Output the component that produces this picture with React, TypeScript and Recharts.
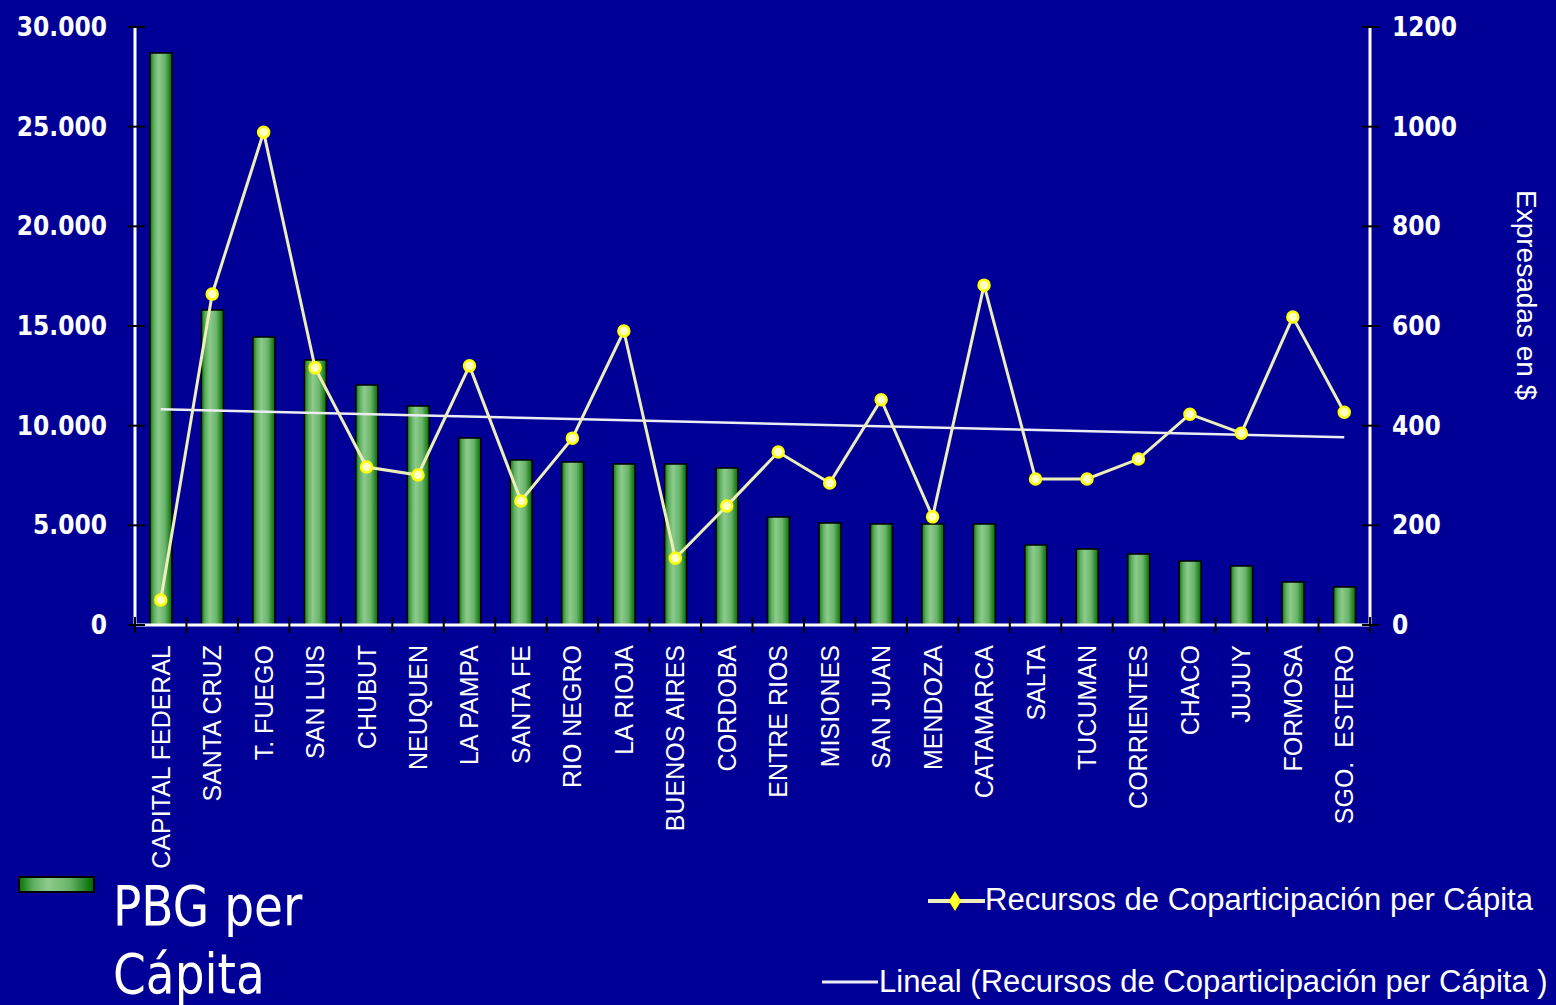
import React from "react";
import { Bar, ComposedChart, Line, ReferenceLine, XAxis, YAxis } from "recharts";

const categories = [
  "CAPITAL FEDERAL", "SANTA CRUZ", "T. FUEGO", "SAN LUIS", "CHUBUT", "NEUQUEN",
  "LA PAMPA", "SANTA FE", "RIO NEGRO", "LA RIOJA", "BUENOS AIRES", "CORDOBA",
  "ENTRE RIOS", "MISIONES", "SAN JUAN", "MENDOZA", "CATAMARCA", "SALTA",
  "TUCUMAN", "CORRIENTES", "CHACO", "JUJUY", "FORMOSA", "SGO.  ESTERO",
];
const pbgPerCapita = [
  28700, 15800, 14450, 13300, 12040, 10990, 9380, 8280, 8180, 8080, 8080, 7880,
  5420, 5120, 5070, 5070, 5070, 4010, 3810, 3560, 3210, 2960, 2160, 1910,
];
const recursosPerCapita = [
  50, 664, 989, 516, 317, 301, 520, 249, 375, 590, 134, 239,
  347, 285, 452, 217, 682, 293, 293, 333, 423, 385, 618, 427,
];
// Excel "Lineal" trendline, value at first and last category
const trendEnds = [433, 377];
const leftTicks = [0, 5000, 10000, 15000, 20000, 25000, 30000];
const rightTicks = [0, 200, 400, 600, 800, 1000, 1200];

const data = categories.map((name, i) => ({ name, pbg: pbgPerCapita[i], rec: recursosPerCapita[i] }));

const W = 1556;
const H = 1005;
const LEFT_W = 135;
const RIGHT_W = 186;
const X_H = 380;
const BAND = (W - LEFT_W - RIGHT_W) / categories.length;
const BG = "#000096";
const numFont = "'DejaVu Sans Condensed', 'DejaVu Sans', sans-serif";
const txtFont = "'Liberation Sans', Arial, sans-serif";

const fmtLeft = (v: number) => (v === 0 ? "0" : `${v / 1000}.000`);

function LeftTick({ x, y, payload }: any) {
  return <g>
    <line x1={x + 28 - 7} x2={x + 28 + 10} y1={y} y2={y} stroke="#000" strokeWidth={2} />
    <text x={x} y={y} dy={9} textAnchor="end" fill="#fff" fontFamily={numFont} fontStretch="condensed"
      fontWeight="bold" fontSize={26}>{fmtLeft(payload.value)}</text>
  </g>;
}

function RightTick({ x, y, payload }: any) {
  return <g>
    <line x1={x - 22 - 8} x2={x - 22 + 9} y1={y} y2={y} stroke="#000" strokeWidth={2} />
    <text x={x} y={y} dy={9} textAnchor="start" fill="#fff" fontFamily={numFont} fontStretch="condensed"
      fontWeight="bold" fontSize={26}>{payload.value}</text>
  </g>;
}

function BottomTick({ x, y, payload, index }: any) {
  const axisY = y - 20;
  return <g>
    <line x1={x - BAND / 2} x2={x - BAND / 2} y1={axisY - 8} y2={axisY + 8} stroke="#000" strokeWidth={2} />
    {index === categories.length - 1 &&
      <line x1={x + BAND / 2} x2={x + BAND / 2} y1={axisY - 8} y2={axisY + 8} stroke="#000" strokeWidth={2} />}
    <text transform={`translate(${x + 9},${y}) rotate(-90)`} textAnchor="end" fill="#fff"
      fontFamily={txtFont} fontSize={25} style={{ whiteSpace: "pre" }}>{payload.value}</text>
  </g>;
}

export default function App() {
  return <div style={{ position: "absolute", left: 0, top: 0, width: W, height: H, background: BG, overflow: "hidden" }}>
    <ComposedChart width={W} height={H} data={data} margin={{ top: 27, right: 0, bottom: 0, left: 0 }}>
      <defs>
        <linearGradient id="barFill" x1="0" y1="0" x2="1" y2="0">
          <stop offset="0%" stopColor="#0b780b" />
          <stop offset="18%" stopColor="#5fae5f" />
          <stop offset="38%" stopColor="#8ccb8c" />
          <stop offset="68%" stopColor="#6ab46a" />
          <stop offset="100%" stopColor="#006a00" />
        </linearGradient>
      </defs>
      <XAxis dataKey="name" height={X_H} interval={0} tickSize={0} tickMargin={20}
        axisLine={{ stroke: "#fff", strokeWidth: 3 }} tickLine={false} tick={<BottomTick />} />
      <YAxis yAxisId="left" orientation="left" width={LEFT_W} domain={[0, 30000]} ticks={leftTicks}
        tickSize={0} tickMargin={28} tickLine={false} axisLine={{ stroke: "#fff", strokeWidth: 3 }} tick={<LeftTick />} />
      <YAxis yAxisId="right" orientation="right" width={RIGHT_W} domain={[0, 1200]} ticks={rightTicks}
        tickSize={0} tickMargin={22} tickLine={false} axisLine={{ stroke: "#fff", strokeWidth: 3 }} tick={<RightTick />} />
      <Bar yAxisId="left" dataKey="pbg" barSize={22} fill="url(#barFill)" stroke="#000" strokeWidth={1.5}
        isAnimationActive={false} />
      <ReferenceLine yAxisId="right" stroke="#ececf4" strokeWidth={2.5}
        segment={[{ x: categories[0], y: trendEnds[0] }, { x: categories[categories.length - 1], y: trendEnds[1] }]} />
      <Line yAxisId="right" dataKey="rec" type="linear" stroke="#eeeebb" strokeWidth={3}
        dot={{ r: 5.5, fill: "#ffffc8", stroke: "#ffff00", strokeWidth: 2.5 }} isAnimationActive={false} />
    </ComposedChart>

    <div style={{ position: "absolute", left: 1508, top: 190, writingMode: "vertical-rl", color: "#fff",
      fontFamily: txtFont, fontSize: 28, lineHeight: "36px", whiteSpace: "nowrap" }}>Expresadas en $</div>

    <div style={{ position: "absolute", left: 18, top: 876, width: 73, height: 13, border: "2px solid #000",
      background: "linear-gradient(to right, #0b780b, #5fae5f 18%, #8ccb8c 38%, #6ab46a 68%, #006a00)" }} />
    <div style={{ position: "absolute", left: 113, top: 872, color: "#fff", fontFamily: "'DejaVu Sans', sans-serif",
      fontSize: 56, lineHeight: "68px", transform: "scaleX(0.84)", transformOrigin: "left top" }}>
      PBG per<br />Cápita
    </div>

    <svg style={{ position: "absolute", left: 0, top: 0 }} width={W} height={H}>
      <line x1={928} x2={985} y1={901} y2={901} stroke="#eeeebb" strokeWidth={4} />
      <polygon points="955,893 960,901 955,909 950,901" fill="#ffff40" stroke="#ffff00" strokeWidth={2} />
      <line x1={822} x2={878} y1={982} y2={982} stroke="#ececf4" strokeWidth={3} />
    </svg>
    <div style={{ position: "absolute", left: 985, top: 880, color: "#fff", fontFamily: txtFont, fontSize: 31,
      lineHeight: "40px", whiteSpace: "nowrap" }}>Recursos de Coparticipación per Cápita</div>
    <div style={{ position: "absolute", left: 879, top: 962, color: "#fff", fontFamily: txtFont, fontSize: 31,
      lineHeight: "40px", whiteSpace: "nowrap" }}>Lineal (Recursos de Coparticipación per Cápita )</div>
  </div>;
}
